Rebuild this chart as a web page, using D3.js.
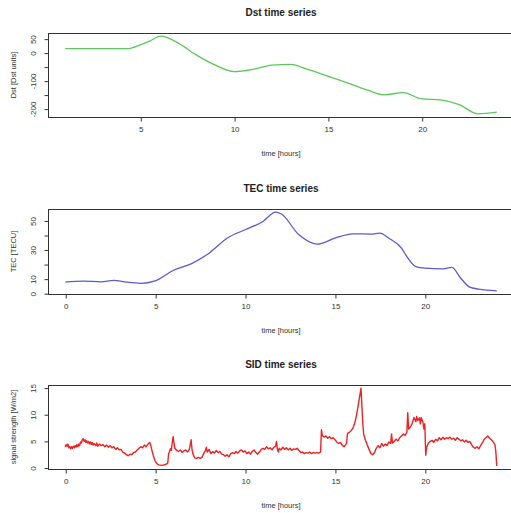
<!DOCTYPE html>
<html><head><meta charset="utf-8">
<script src="https://cdn.jsdelivr.net/npm/d3@7"></script>
<style>body{margin:0;background:#fff}svg{display:block}</style>
</head><body>
<script>
// ---- data ----
const dstHours = [1,2,3,4,4.3,5,5.5,6.1,7,8,9,10,11,12,13,14,15,16,17,18,19,20,21,22,23,24];
const dstValues = [14,14,14,14,14,28,41,59,35,-9,-45,-68,-60,-45,-42,-62,-84,-107,-131,-151,-143,-165,-169,-186,-219,-213];
const dstYTicks = [50,0,-50,-100,-150,-200];
const dstYLabels = [50,0,-100,-200];

const tecHours = [0,1,2,2.7,3.3,4.2,5,6,7,8,9,10,11,11.7,12,13,14,15,16,17,17.5,18,18.7,19,19.5,20,21,21.5,22,22.5,23,24];
const tecValues = [7.6,8.3,7.8,8.8,7.8,6.8,8.5,15.6,20.2,27.5,37.8,43.6,49.3,55.7,54.6,40.1,33.7,37.8,40.8,40.6,41.3,37.8,31,25.2,18.3,17.2,16.7,17.7,10.3,4.1,2.8,1.6];
const tecYTicks = [0,10,20,30,40,50];
const tecYLabels = [0,10,30,50];

const sidPairs = [
[0.00,3.8],[0.05,4.3],[0.10,4.0],[0.15,4.4],[0.20,3.7],[0.25,3.9],[0.30,3.5],[0.35,3.9],[0.40,3.6],[0.45,4.0],[0.50,3.7],[0.55,4.1],[0.60,3.8],[0.65,4.3],[0.70,3.9],[0.75,4.4],[0.80,4.1],[0.85,4.8],[0.90,4.6],[0.95,5.2],
[1.00,5.4],[1.05,4.9],[1.10,5.2],[1.15,4.7],[1.20,5.0],[1.25,4.6],[1.30,4.9],[1.35,4.4],[1.40,4.8],[1.45,4.3],[1.50,4.7],[1.55,4.2],[1.60,4.5],[1.70,4.1],[1.75,4.6],[1.80,4.0],[1.90,4.4],
[2.00,4.1],[2.10,4.3],[2.20,3.9],[2.30,4.2],[2.40,3.8],[2.50,4.1],[2.60,3.7],[2.70,3.9],[2.80,3.4],[2.90,3.7],
[3.00,3.3],[3.10,3.4],[3.20,2.9],[3.30,2.7],[3.40,2.4],[3.50,2.2],[3.60,2.5],[3.70,2.4],[3.80,2.8],[3.90,2.9],
[4.00,3.3],[4.10,3.6],[4.20,3.9],[4.30,3.7],[4.40,4.2],[4.50,3.9],[4.60,4.4],[4.70,4.7],[4.75,4.2],[4.80,3.5],[4.90,2.2],
[5.00,1.2],[5.10,0.7],[5.20,0.5],[5.40,0.4],[5.60,0.6],[5.70,0.8],[5.75,2.6],[5.80,3.0],[5.85,3.5],[5.90,3.2],[5.95,4.6],
[6.00,5.8],[6.05,4.5],[6.10,3.6],[6.20,3.2],[6.30,3.0],[6.40,3.3],[6.50,2.8],[6.60,3.1],[6.70,3.3],[6.80,2.9],[6.90,3.4],
[7.00,5.2],[7.05,3.4],[7.10,2.6],[7.20,1.8],[7.30,1.7],[7.40,1.9],[7.50,1.7],[7.60,1.9],[7.70,2.6],[7.80,3.2],[7.85,3.8],[7.90,2.9],
[8.00,3.4],[8.10,2.6],[8.20,3.0],[8.30,2.7],[8.40,3.2],[8.50,2.8],[8.60,3.0],[8.70,2.5],[8.80,2.4],[8.90,2.1],
[9.00,2.4],[9.10,2.0],[9.20,2.6],[9.30,2.8],[9.40,2.6],[9.50,3.0],[9.60,2.7],[9.70,3.1],[9.80,3.3],[9.90,2.9],
[10.00,3.1],[10.10,2.6],[10.20,2.9],[10.30,2.5],[10.40,3.0],[10.50,3.3],[10.60,2.8],[10.70,2.5],[10.80,2.9],[10.90,3.4],
[11.00,3.6],[11.10,3.4],[11.20,3.9],[11.30,3.5],[11.40,3.7],[11.50,3.3],[11.60,3.8],[11.70,4.0],[11.75,4.9],[11.80,3.4],[11.85,2.9],[11.90,3.6],
[12.00,3.3],[12.10,3.8],[12.20,3.4],[12.30,3.7],[12.40,3.3],[12.50,3.6],[12.60,3.2],[12.70,3.5],[12.80,3.4],[12.90,3.6],
[13.00,3.2],[13.10,2.8],[13.20,2.9],[13.30,2.6],[13.40,2.8],[13.50,2.7],[13.60,2.9],[13.70,2.6],[13.80,2.8],[13.90,2.7],
[14.00,2.8],[14.10,2.7],[14.20,2.9],[14.25,7.1],[14.30,6.0],[14.40,5.7],[14.50,5.9],[14.60,5.5],[14.70,5.8],[14.80,5.4],[14.90,5.6],
[15.00,5.2],[15.10,4.8],[15.20,4.5],[15.30,4.7],[15.40,4.2],[15.50,3.9],[15.60,4.3],[15.65,4.6],[15.70,6.4],[15.80,6.6],[15.90,6.9],
[16.00,7.4],[16.10,8.3],[16.20,9.8],[16.30,11.8],[16.40,13.8],[16.45,14.9],[16.50,11.5],[16.55,8.2],[16.60,6.2],[16.70,5.1],[16.80,4.2],[16.90,3.4],
[17.00,2.6],[17.10,2.4],[17.20,2.8],[17.30,3.6],[17.40,4.1],[17.50,3.7],[17.60,4.5],[17.70,4.0],[17.80,4.4],[17.90,4.1],
[18.00,4.8],[18.10,4.5],[18.15,6.3],[18.20,4.6],[18.30,4.9],[18.40,5.3],[18.50,5.0],[18.60,5.6],[18.70,5.9],[18.80,6.3],[18.90,6.0],
[19.00,6.6],[19.05,10.3],[19.10,7.2],[19.20,7.6],[19.30,8.3],[19.40,9.4],[19.50,8.6],[19.55,9.6],[19.60,8.8],[19.70,9.3],[19.75,8.2],[19.80,9.4],[19.90,8.4],[19.95,7.2],
[20.00,8.2],[20.05,2.3],[20.10,3.8],[20.20,4.6],[20.30,4.9],[20.40,5.1],[20.50,4.7],[20.60,5.3],[20.70,5.0],[20.80,5.6],[20.90,5.2],
[21.00,5.7],[21.10,5.3],[21.20,5.6],[21.30,5.4],[21.40,5.7],[21.50,5.3],[21.60,5.5],[21.70,5.1],[21.80,5.6],[21.90,5.3],
[22.00,5.0],[22.10,5.2],[22.20,4.8],[22.30,5.1],[22.40,4.7],[22.50,4.9],[22.60,4.3],[22.70,3.8],[22.80,3.6],[22.90,3.9],
[23.00,3.5],[23.10,4.1],[23.20,4.6],[23.30,5.3],[23.40,5.6],[23.50,5.9],[23.60,5.5],[23.70,5.2],[23.80,4.8],[23.90,4.3],[23.95,3.0],[24.00,0.3]
];
const sidHours = sidPairs.map(d => d[0]);
const sidValues = sidPairs.map(d => d[1]);
const sidYTicks = [0,5,10,15];
const sidYLabels = [0,5,10,15];

const xTicksDst = [5,10,15,20];
const xTicksFull = [0,5,10,15,20];

// ---- drawing ----
const W = 511, H = 513;
const svg = d3.select("body").append("svg").attr("width", W).attr("height", H);
const font = "'Liberation Sans', Arial, Helvetica, sans-serif";
const axisColor = "#333";

function pad(ext){ const r = ext[1]-ext[0]; return [ext[0]-0.04*r, ext[1]+0.04*r]; }

function panel(cfg){
  const left = 48, right = 514;
  const x = d3.scaleLinear().domain(pad(d3.extent(cfg.xs))).range([left, right]);
  const y = d3.scaleLinear().domain(pad(d3.extent(cfg.ys))).range([cfg.bottom, cfg.top]);
  const g = svg.append("g");
  const data = cfg.xs.map((v,i)=>[v, cfg.ys[i]]);
  const line = d3.line().x(d=>x(d[0])).y(d=>y(d[1]));
  if (cfg.curve) line.curve(cfg.curve);
  g.append("path").datum(data).attr("d", line)
    .attr("fill","none").attr("stroke", cfg.color).attr("stroke-width", cfg.sw || 1.3)
    .attr("stroke-linejoin","round");
  g.append("rect").attr("x", left+0.5).attr("y", cfg.top+0.5)
    .attr("width", right-left).attr("height", cfg.bottom-cfg.top)
    .attr("fill","none").attr("stroke", axisColor).attr("stroke-width",1);
  // x axis
  const xa = d3.axisBottom(x).tickValues(cfg.xTicks).tickSize(4).tickSizeOuter(0).tickPadding(5);
  const gx = g.append("g").attr("transform", `translate(0.5,${cfg.bottom+0.5})`).call(xa);
  gx.select(".domain").attr("d", `M${x(cfg.xTicks[0])},0H${x(cfg.xTicks[cfg.xTicks.length-1])}`).attr("stroke", axisColor);
  gx.selectAll(".tick line").attr("stroke", axisColor);
  gx.selectAll(".tick text").attr("font-family", font).attr("font-size", 8).attr("fill","#333");
  // y axis
  const ya = d3.axisLeft(y).tickValues(cfg.yTicks).tickSize(4).tickSizeOuter(0).tickFormat(d => cfg.yLabels.includes(d) ? d : "");
  const gy = g.append("g").attr("transform", `translate(${left+0.5},0.5)`).call(ya);
  gy.select(".domain").attr("d", `M0,${y(cfg.yTicks[0])}V${y(cfg.yTicks[cfg.yTicks.length-1])}`).attr("stroke", axisColor);
  gy.selectAll(".tick line").attr("stroke", axisColor);
  gy.selectAll(".tick text").attr("font-family", font).attr("font-size", 8).attr("fill","#333")
    .attr("x", null).attr("dy", null)
    .attr("transform", "translate(-15,0) rotate(-90)")
    .attr("text-anchor","middle").attr("dominant-baseline","middle");
  // titles
  const cx = (left+right)/2;
  svg.append("text").attr("x", cx).attr("y", cfg.top-17).attr("text-anchor","middle")
    .attr("font-family", font).attr("font-weight","bold").attr("font-size", 10).attr("fill","#222").text(cfg.title);
  svg.append("text").attr("x", cx).attr("y", cfg.bottom+39).attr("text-anchor","middle")
    .attr("font-family", font).attr("font-size", 7.5).attr("fill","#333").text("time [hours]");
  svg.append("text").attr("transform", `translate(16,${(cfg.top+cfg.bottom)/2}) rotate(-90)`)
    .attr("text-anchor","middle").attr("font-family", font).attr("font-size", 7.5).attr("fill","#333").text(cfg.ylab);
}

panel({xs: dstHours, ys: dstValues, top: 33, bottom: 117, color: "#5cc85c", curve: d3.curveMonotoneX,
  xTicks: xTicksDst, yTicks: dstYTicks, yLabels: dstYLabels, title: "Dst time series", ylab: "Dst [Dst units]"});
panel({xs: tecHours, ys: tecValues, top: 209, bottom: 294, color: "#5a5ad2", curve: d3.curveMonotoneX,
  xTicks: xTicksFull, yTicks: tecYTicks, yLabels: tecYLabels, title: "TEC time series", ylab: "TEC [TECU]"});
panel({xs: sidHours, ys: sidValues, top: 385, bottom: 469, color: "#ee2222", sw: 1.4,
  xTicks: xTicksFull, yTicks: sidYTicks, yLabels: sidYLabels, title: "SID time series", ylab: "signal strength [W/m2]"});
</script>
</body></html>
